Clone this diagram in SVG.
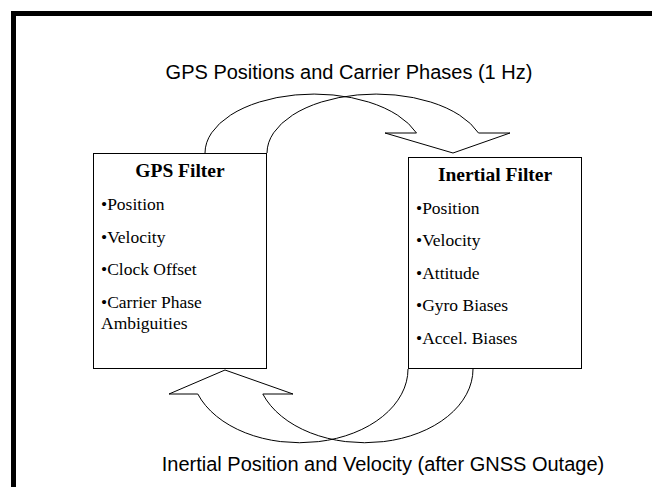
<svg xmlns="http://www.w3.org/2000/svg" width="652" height="487" viewBox="0 0 652 487">
<style>
.box{fill:#fff;stroke:#000;stroke-width:1}
.arr{fill:none;stroke:#000;stroke-width:1}
.lbl{font-family:"Liberation Sans",Arial,sans-serif;font-size:20px;fill:#000}
.title{font-family:"Liberation Serif","Times New Roman",serif;font-size:19.5px;font-weight:bold;fill:#000}
.item{font-family:"Liberation Serif","Times New Roman",serif;font-size:17.5px;fill:#000}
</style>
<rect width="652" height="487" fill="#fff"/>
<path d="M13.5,487 V13.5 H652" fill="none" stroke="#000" stroke-width="5"/>
<text class="lbl" x="349" y="79" text-anchor="middle">GPS Positions and Carrier Phases (1 Hz)</text>
<text class="lbl" x="383" y="471" text-anchor="middle">Inertial Position and Velocity (after GNSS Outage)</text>
<g id="connectors">
<path class="arr" d="M205,153 A109,59 0 0 1 416.5,133 L385,133 L453,153 L510,133 L478.5,133 A109,59 0 0 0 267,153"/>
<path class="arr" d="M408,369 A108.3,73.7 0 0 1 197.8,394 L169,394 L225,370 L293,394 L262.8,394 A108.3,73.7 0 0 0 473,369"/>
</g>
<g id="gps-filter">
<rect class="box" x="93.5" y="153.5" width="173" height="215"/>
<text class="title" x="180" y="177" text-anchor="middle">GPS Filter</text>
<text class="item" x="101" y="210">•Position</text>
<text class="item" x="101" y="242.5">•Velocity</text>
<text class="item" x="101" y="275">•Clock Offset</text>
<text class="item" x="101" y="307.5">•Carrier Phase</text>
<text class="item" x="101" y="328.5">Ambiguities</text>
</g>
<g id="inertial-filter">
<rect class="box" x="408.5" y="157.5" width="173" height="211"/>
<text class="title" x="495" y="181" text-anchor="middle">Inertial Filter</text>
<text class="item" x="416" y="213.5">•Position</text>
<text class="item" x="416" y="246">•Velocity</text>
<text class="item" x="416" y="278.5">•Attitude</text>
<text class="item" x="416" y="311">•Gyro Biases</text>
<text class="item" x="416" y="343.5">•Accel. Biases</text>
</g>
</svg>
